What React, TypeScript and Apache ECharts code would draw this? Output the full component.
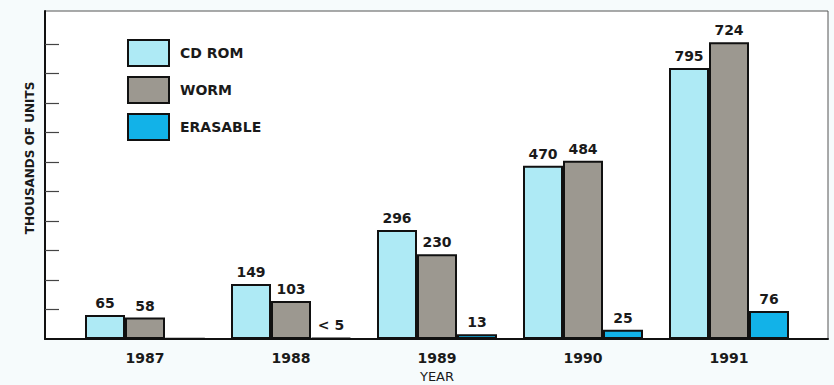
import React, { useEffect, useRef } from "react";
import * as echarts from "echarts";

const years = ["1987", "1988", "1989", "1990", "1991"];
const seriesNames = ["CD ROM", "WORM", "ERASABLE"];
// bar heights (1991 heights)
const cdRom = [65, 149, 296, 470, 735];
const worm = [58, 103, 230, 484, 805];
const erasable = [1, 3, 13, 25, 76];
// printed value labels
const cdRomLabels = ["65", "149", "296", "470", "795"];
const wormLabels = ["58", "103", "230", "484", "724"];
const erasableLabels = ["", "< 5", "13", "25", "76"];
const yTicks = [80, 160, 240, 320, 400, 480, 560, 640, 720, 800];

const FONT = "'DejaVu Sans', 'Liberation Sans', sans-serif";

export default function App() {
  const ref = useRef<HTMLDivElement>(null);
  useEffect(() => {
    if (!ref.current) return;
    const chart = echarts.init(ref.current, undefined, { renderer: "svg" });
    const colors = ["#aeeaf5", "#9c9890", "#12b2e8"];
    const labelSets = [cdRomLabels, wormLabels, erasableLabels];
    const dataSets = [cdRom, worm, erasable];
    const series = seriesNames.map((name, i) => ({
      name,
      type: "bar",
      xAxisIndex: 1,
      yAxisIndex: 1,
      data: dataSets[i],
      barWidth: 40,
      barGap: "0%",
      itemStyle: { color: colors[i], borderColor: "#111", borderWidth: 2 },
      label: {
        show: true,
        position: "top",
        distance: 5,
        fontFamily: FONT,
        fontSize: 14,
        fontWeight: "bold",
        color: "#1a1a1a",
        formatter: (p: any) => labelSets[i][p.dataIndex],
      },
    }));
    chart.setOption({
      animation: false,
      backgroundColor: "#f6fbfc",
      grid: [
        { left: 45, right: 6, top: 11, bottom: 46, show: true, borderColor: "#555", borderWidth: 1, backgroundColor: "#ffffff", containLabel: false, outerBoundsMode: "none" },
        { left: 72, width: 730, top: 11, bottom: 46, containLabel: false, outerBoundsMode: "none" },
      ],
      xAxis: [
        {
          type: "value",
          gridIndex: 0,
          min: 0,
          max: 1,
          axisLine: { show: true, onZero: false, lineStyle: { color: "#111", width: 2 } },
          axisTick: { show: false },
          axisLabel: { show: false },
          splitLine: { show: false },
        },
        {
          type: "category",
          gridIndex: 1,
          data: years,
          axisLine: { show: false },
          axisTick: { show: false },
          axisLabel: { fontFamily: FONT, fontSize: 14, fontWeight: "bold", color: "#1a1a1a", margin: 12 },
          name: "YEAR",
          nameLocation: "middle",
          nameGap: 30,
          nameTextStyle: { fontFamily: FONT, fontSize: 13, color: "#1a1a1a" },
        },
      ],
      yAxis: [
        {
          type: "value",
          gridIndex: 0,
          min: 0,
          max: 890,
          interval: 80,
          axisLine: { show: true, lineStyle: { color: "#111", width: 2 } },
          axisTick: { show: true, inside: true, length: 14, customValues: yTicks, lineStyle: { color: "#444", width: 1.2 } },
          axisLabel: { show: false },
          splitLine: { show: false },
        },
        {
          type: "value",
          gridIndex: 1,
          min: 0,
          max: 890,
          interval: 80,
          show: false,
          splitLine: { show: false },
        },
      ],
      legend: {
        data: seriesNames,
        orient: "vertical",
        left: 122,
        top: 34,
        itemWidth: 41,
        itemHeight: 26,
        itemGap: 9,
        icon: "rect",
        itemStyle: { borderColor: "#111", borderWidth: 2 },
        textStyle: { fontFamily: FONT, fontSize: 14, fontWeight: "bold", color: "#1a1a1a", padding: [0, 0, 0, 6] },
      },
      graphic: [
        {
          type: "text",
          x: 30,
          y: 158,
          rotation: Math.PI / 2,
          style: {
            text: "THOUSANDS OF UNITS",
            x: 0,
            y: 0,
            textAlign: "center",
            textVerticalAlign: "middle",
            font: "bold 12px 'DejaVu Sans', sans-serif",
            fill: "#1a1a1a",
          },
        },
      ],
      series,
    });
    return () => chart.dispose();
  }, []);
  return <div ref={ref} style={{ position: "fixed", left: 0, top: 0, width: 834, height: 385 }} />;
}
